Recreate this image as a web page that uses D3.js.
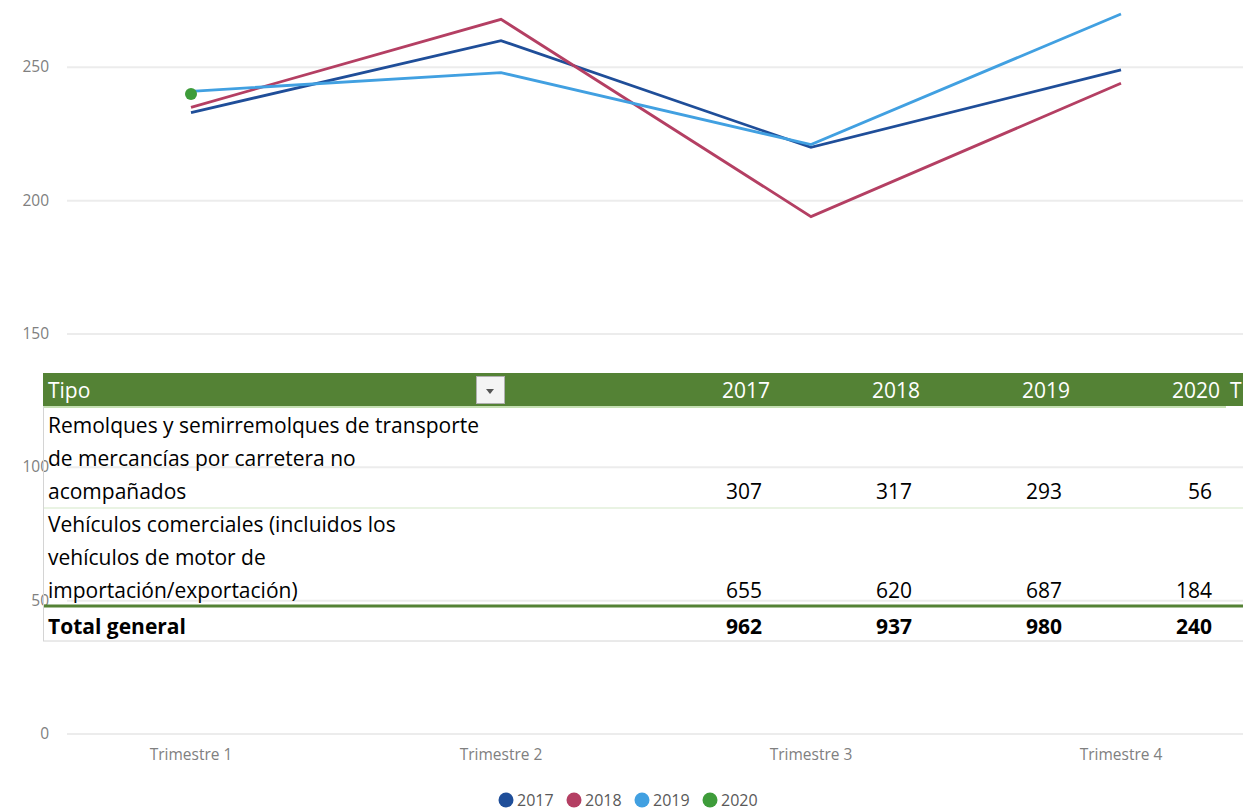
<!DOCTYPE html>
<html>
<head>
<meta charset="utf-8">
<script src="https://cdn.jsdelivr.net/npm/d3@7"></script>
<style>
  body { margin: 0; background: #fff; }
  svg { display: block; }
  .axis-lbl { font-family: "Open Sans", "Noto Sans", sans-serif; font-size: 15.5px; fill: #808080; }
  .tbl { font-family: "Open Sans", "Noto Sans", sans-serif; font-size: 21px; fill: #000; }
</style>
</head>
<body>
<div id="chart"></div>
<script>
const width = 1243;
const height = 810;

const quarters = ["Trimestre 1", "Trimestre 2", "Trimestre 3", "Trimestre 4"];
const years = ["2017", "2018", "2019", "2020"];
const v2017 = [233, 260, 220, 249];
const v2018 = [235, 268, 194, 244];
const v2019 = [241, 248, 221, 270];
const v2020 = [240];
const yTicks = [0, 50, 100, 150, 200, 250];
const colors = ["#1f4e99", "#b43f63", "#41a0e1", "#3e9c3a"];

// table in front of the chart
const tableCols = ["2017", "2018", "2019", "2020"];
const rowRemolques = [307, 317, 293, 56];
const rowVehiculos = [655, 620, 687, 184];
const rowTotal = [962, 937, 980, 240];
const remolquesLines = ["Remolques y semirremolques de transporte", "de mercancías por carretera no", "acompañados"];
const vehiculosLines = ["Vehículos comerciales (incluidos los", "vehículos de motor de", "importación/exportación)"];

const series = [v2017, v2018, v2019, v2020];

const svg = d3.select('#chart')
              .append('svg')
              .attr('width', width)
              .attr('height', height);

const x = d3.scalePoint()
            .domain(quarters)
            .range([191, 1121]);

const y = d3.scaleLinear()
            .domain([0, 250])
            .range([734, 67.3]);

// gridlines + y labels
svg.append('g')
   .selectAll('line')
   .data(yTicks)
   .enter()
   .append('line')
   .attr('x1', 67)
   .attr('x2', width)
   .attr('y1', (d) => y(d))
   .attr('y2', (d) => y(d))
   .attr('stroke', '#ececec')
   .attr('stroke-width', 2);

svg.append('g')
   .selectAll('text')
   .data(yTicks)
   .enter()
   .append('text')
   .attr('class', 'axis-lbl')
   .attr('x', 49)
   .attr('y', (d) => y(d) + 5)
   .attr('text-anchor', 'end')
   .text((d) => d);

// x labels
svg.append('g')
   .selectAll('text')
   .data(quarters)
   .enter()
   .append('text')
   .attr('class', 'axis-lbl')
   .attr('x', (d) => x(d))
   .attr('y', 760)
   .attr('text-anchor', 'middle')
   .text((d) => d);

// lines
const line = d3.line()
               .x((d, i) => x(quarters[i]))
               .y((d) => y(d));

series.forEach((s, k) => {
    if (s.length > 1) {
        svg.append('path')
           .datum(s)
           .attr('d', line)
           .attr('fill', 'none')
           .attr('stroke', colors[k])
           .attr('stroke-width', 2.8);
    } else {
        svg.append('circle')
           .attr('cx', x(quarters[0]))
           .attr('cy', y(s[0]))
           .attr('r', 6)
           .attr('fill', colors[k]);
    }
});

// legend
const legend = svg.append('g');
years.forEach((yr, i) => {
    const lx = 506 + i * 68;
    legend.append('circle')
          .attr('cx', lx)
          .attr('cy', 800)
          .attr('r', 7.5)
          .attr('fill', colors[i]);
    legend.append('text')
          .attr('class', 'axis-lbl')
          .style('fill', '#595959')
          .style('font-size', '16px')
          .attr('x', lx + 11)
          .attr('y', 806)
          .text(yr);
});

// ---- pivot table overlay ----
const tbl = svg.append('g');
const colRight = (i) => 770 + i * 150;

tbl.append('rect')
   .attr('x', 43)
   .attr('y', 373)
   .attr('width', width - 43)
   .attr('height', 33)
   .attr('fill', '#548235');

tbl.append('text')
   .attr('class', 'tbl')
   .style('fill', '#fff')
   .attr('x', 48)
   .attr('y', 398)
   .text('Tipo');

tbl.selectAll('.hdr')
   .data(tableCols)
   .enter()
   .append('text')
   .attr('class', 'tbl hdr')
   .style('fill', '#fff')
   .attr('x', (d, i) => colRight(i))
   .attr('y', 398)
   .attr('text-anchor', 'end')
   .text((d) => d);

// only the first letter of "Total general" fits in the crop
tbl.append('text')
   .attr('class', 'tbl')
   .style('fill', '#fff')
   .attr('x', 1230)
   .attr('y', 398)
   .text('T');

// dropdown button
tbl.append('rect')
   .attr('x', 476.5)
   .attr('y', 376.5)
   .attr('width', 28)
   .attr('height', 27)
   .attr('fill', '#f4f4f4')
   .attr('stroke', '#b0b0b0');
tbl.append('path')
   .attr('d', 'M486,389 L494,389 L490,394 Z')
   .attr('fill', '#555');

// borders
tbl.append('line').attr('x1', 43).attr('x2', 1226).attr('y1', 407).attr('y2', 407)
   .attr('stroke', '#c6e0b4').attr('stroke-width', 2);
tbl.append('line').attr('x1', 43).attr('x2', width).attr('y1', 508).attr('y2', 508)
   .attr('stroke', '#e2efda').attr('stroke-width', 1.5);
tbl.append('line').attr('x1', 43).attr('x2', width).attr('y1', 606).attr('y2', 606)
   .attr('stroke', '#548235').attr('stroke-width', 3);
tbl.append('line').attr('x1', 43).attr('x2', width).attr('y1', 641).attr('y2', 641)
   .attr('stroke', '#d4d4d4').attr('stroke-width', 1);
tbl.append('line').attr('x1', 43.5).attr('x2', 43.5).attr('y1', 406).attr('y2', 641)
   .attr('stroke', '#d4d4d4').attr('stroke-width', 1);

const addRow = (lines, vals, top, bold) => {
    lines.forEach((t, i) => {
        tbl.append('text')
           .attr('class', 'tbl')
           .style('font-weight', bold ? 'bold' : 'normal')
           .attr('x', 48)
           .attr('y', top + i * 33)
           .text(t);
    });
    const lastY = top + (lines.length - 1) * 33;
    vals.forEach((v, i) => {
        tbl.append('text')
           .attr('class', 'tbl')
           .style('font-weight', bold ? 'bold' : 'normal')
           .attr('x', colRight(i) - 8)
           .attr('y', lastY)
           .attr('text-anchor', 'end')
           .text(v);
    });
};

addRow(remolquesLines, rowRemolques, 433, false);
addRow(vehiculosLines, rowVehiculos, 532, false);
addRow(["Total general"], rowTotal, 634, true);
</script>
</body>
</html>
